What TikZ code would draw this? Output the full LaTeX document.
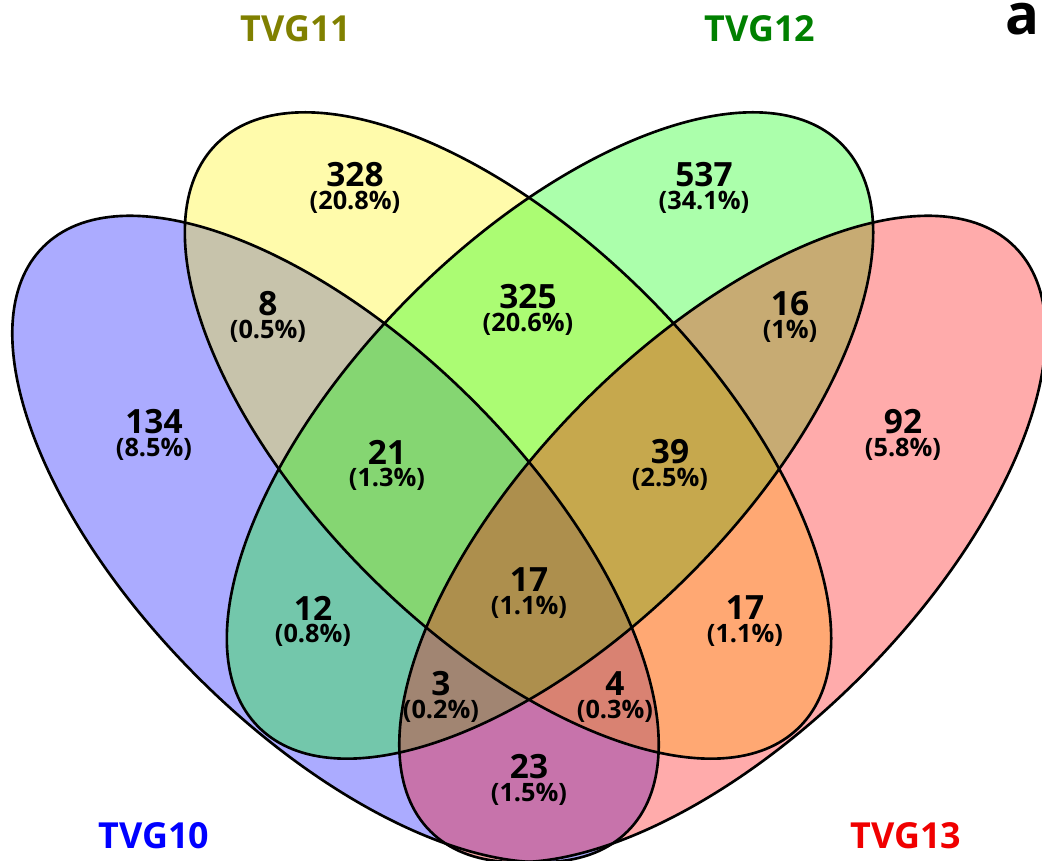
\documentclass[tikz,border=0pt]{standalone}
\usepackage{fontspec}
\setmainfont{Open Sans}
\usetikzlibrary{positioning}
\definecolor{tvgten}{RGB}{0,0,255}
\definecolor{tvgeleven}{RGB}{128,128,0}
\definecolor{tvgtwelve}{RGB}{0,128,0}
\definecolor{tvgthirteen}{RGB}{240,0,0}
\tikzset{
    set/.style={fill opacity=0.33},
    rim/.style={line width=0.75pt},
    num/.style={font=\fontsize{9.5}{11}\selectfont\bfseries},
    pct/.style={node distance=0.27cm, font=\fontsize{7.2}{8}\selectfont\bfseries},
    title/.style={anchor=base, font=\fontsize{10.2}{12}\selectfont\bfseries},
}

\begin{document}
\begin{tikzpicture}[x=0.01cm, y=-0.01cm]
    \useasboundingbox (0,0) rectangle (1042,861);
    \clip (0,0) rectangle (1042,861);

    \coordinate (cA) at (335.5,539);
    \coordinate (cB) at (508,435.5);
    \coordinate (cC) at (550,435.5);
    \coordinate (cD) at (722.5,539);

    % the four sets
    \foreach \c/\tilt/\col/\rx/\ry in {cA/-45/blue/4.13/1.95, cB/-45/yellow/4.12/1.97,
                                       cC/45/green/4.12/1.97, cD/45/red/4.13/1.95}
        \fill[\col, set, rotate around={\tilt:(\c)}] (\c) ellipse [x radius=\rx cm, y radius=\ry cm];
    \foreach \c/\tilt/\rx/\ry in {cA/-45/4.13/1.95, cB/-45/4.12/1.97,
                                  cC/45/4.12/1.97, cD/45/4.13/1.95}
        \draw[rim, rotate around={\tilt:(\c)}] (\c) ellipse [x radius=\rx cm, y radius=\ry cm];

    % counts
    \foreach \nm/\x/\y/\n/\p in {r-b/355/175/328/20.8, r-c/704/175/537/34.1,
                                 r-ab/268/304/8/0.5, r-bc/528/297/325/20.6, r-cd/790/304/16/1,
                                 r-a/154/422/134/8.5, r-abc/387/452/21/1.3,
                                 r-bcd/670/452/39/2.5, r-d/903/422/92/5.8,
                                 r-abcd/529/580/17/1.1, r-ac/313/608/12/0.8, r-bd/745/608/17/1.1,
                                 r-acd/441/684/3/0.2, r-abd/615/684/4/0.3, r-ad/529/767/23/1.5}
    {
        \node[num] (\nm) at (\x,\y) {\n};
        \node[pct, below of=\nm] (\nm-p) {(\p\%)};
    }

    \node[title, text=tvgten] (tvg10) at (154,848) {TVG10};
    \node[title, text=tvgeleven] (tvg11) at (296,42) {TVG11};
    \node[title, text=tvgtwelve] (tvg12) at (760,42) {TVG12};
    \node[title, text=tvgthirteen] (tvg13) at (906,848) {TVG13};
    \node[anchor=base, inner sep=0pt, font=\fontsize{16}{18}\selectfont\bfseries] (panel) at (1022,35) {a};
\end{tikzpicture}
\end{document}
